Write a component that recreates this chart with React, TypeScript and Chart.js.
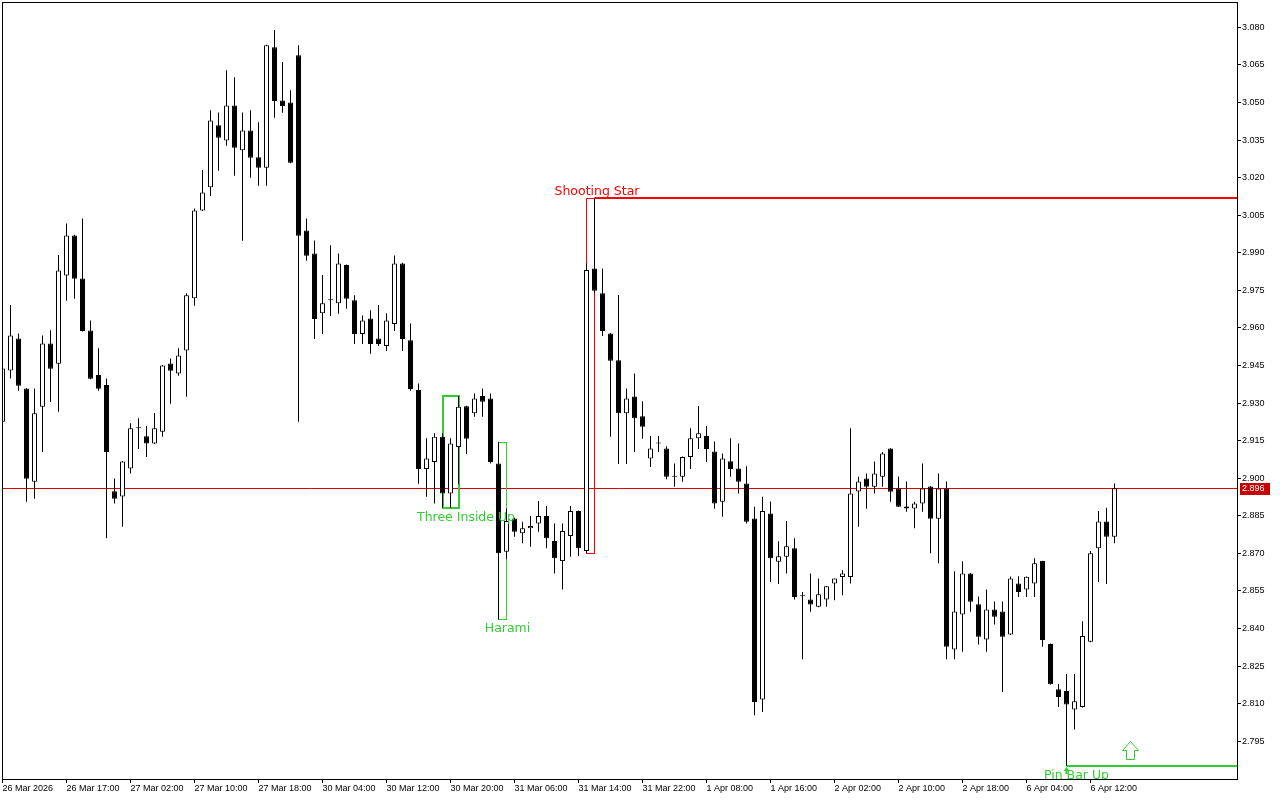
import { useEffect, useRef } from "react";
import { Chart, registerables } from "chart.js";

Chart.register(...registerables);

// ---- data (H1 candles) ----
const opens = [
  2.9225, 2.9430, 2.9558, 2.9358, 2.8986, 2.9285, 2.9538, 2.9457, 2.9809, 2.9969,
  2.9797, 2.9590, 2.9412, 2.9372, 2.8948, 2.8927, 2.9039, 2.9199, 2.9167, 2.9139,
  2.9185, 2.9458, 2.9418, 2.9510, 2.9718, 3.0069, 3.0161, 3.0409, 3.0348, 3.0488,
  3.0309, 3.0388, 3.0281, 3.0239, 3.0720, 3.0508, 3.0500, 3.0688, 2.9989, 2.9897,
  2.9658, 2.9710, 2.9698, 2.9851, 2.9710, 2.9576, 2.9638, 2.9558, 2.9528, 2.9616,
  2.9857, 2.9551, 2.9352, 2.9037, 2.9065, 2.9165, 2.8939, 2.9125, 2.9287, 2.9259,
  2.9328, 2.9318, 2.9059, 2.8706, 2.8839, 2.8780, 2.8800, 2.8819, 2.8849, 2.8749,
  2.8669, 2.8769, 2.8869, 2.8709, 2.9837, 2.9738, 2.9578, 2.9471, 2.9259, 2.9326,
  2.9247, 2.9079, 2.9139, 2.9119, 2.9006, 2.9006, 2.9085, 2.9159, 2.9168, 2.9107,
  2.8906, 2.9068, 2.9039, 2.8979, 2.8839, 2.8117, 2.8859, 2.8666, 2.8686, 2.8720,
  2.8529, 2.8516, 2.8487, 2.8516, 2.8580, 2.8606, 2.8606, 2.8947, 2.8999, 2.8966,
  2.9006, 2.9119, 2.8959, 2.8887, 2.8879, 2.8899, 2.8967, 2.8838, 2.8959, 2.8316,
  2.8456, 2.8620, 2.8497, 2.8356, 2.8476, 2.8468, 2.8376, 2.8580, 2.8556, 2.8580,
  2.8669, 2.8338, 2.8157, 2.8150, 2.8077, 2.8087, 2.8347, 2.8720, 2.8827, 2.8766,
];
const highs = [
  2.9447, 2.9691, 2.9578, 2.9360, 2.9358, 2.9570, 2.9591, 2.9891, 3.0017, 2.9972,
  3.0037, 2.9630, 2.9519, 2.9398, 2.8999, 2.9069, 2.9219, 2.9239, 2.9208, 2.9260,
  2.9452, 2.9478, 2.9519, 2.9738, 3.0077, 3.0230, 3.0469, 3.0460, 3.0629, 3.0601,
  3.0460, 3.0469, 3.0421, 3.0730, 3.0789, 3.0661, 3.0549, 3.0728, 3.0037, 2.9949,
  2.9811, 2.9930, 2.9897, 2.9853, 2.9730, 2.9650, 2.9670, 2.9691, 2.9658, 2.9889,
  2.9860, 2.9618, 2.9378, 2.9159, 2.9179, 2.9179, 2.9159, 2.9328, 2.9289, 2.9338,
  2.9358, 2.9338, 2.9145, 2.8879, 2.8842, 2.8826, 2.8849, 2.8909, 2.8889, 2.8819,
  2.8819, 2.8889, 2.8871, 2.9857, 3.0117, 2.9837, 2.9580, 2.9731, 2.9358, 2.9418,
  2.9307, 2.9168, 2.9168, 2.9128, 2.9059, 2.9087, 2.9199, 2.9288, 2.9208, 2.9147,
  2.9099, 2.9159, 2.9139, 2.9048, 2.8886, 2.8926, 2.8907, 2.8748, 2.8829, 2.8760,
  2.8546, 2.8620, 2.8600, 2.8570, 2.8600, 2.8633, 2.9199, 2.9006, 2.9019, 2.9067,
  2.9105, 2.9120, 2.9007, 2.8987, 2.8906, 2.9059, 2.8968, 2.9019, 2.8987, 2.8629,
  2.8668, 2.8622, 2.8528, 2.8556, 2.8508, 2.8508, 2.8608, 2.8609, 2.8608, 2.8680,
  2.8670, 2.8340, 2.8178, 2.8218, 2.8218, 2.8429, 2.8709, 2.8869, 2.8882, 2.8979,
];
const lows = [
  2.9216, 2.9398, 2.9349, 2.8906, 2.8918, 2.9105, 2.9304, 2.9265, 2.9708, 2.9716,
  2.9586, 2.9395, 2.9349, 2.8760, 2.8899, 2.8806, 2.9019, 2.9117, 2.9085, 2.9137,
  2.9165, 2.9297, 2.9409, 2.9325, 2.9688, 3.0067, 3.0127, 3.0227, 3.0327, 3.0207,
  2.9948, 3.0199, 3.0167, 3.0167, 3.0439, 3.0459, 3.0257, 2.9225, 2.9868, 2.9556,
  2.9576, 2.9648, 2.9656, 2.9676, 2.9536, 2.9536, 2.9497, 2.9528, 2.9508, 2.9588,
  2.9508, 2.9349, 2.8978, 2.8926, 2.8899, 2.8882, 2.8882, 2.8976, 2.9097, 2.9245,
  2.9245, 2.9059, 2.8436, 2.8676, 2.8766, 2.8740, 2.8726, 2.8786, 2.8720, 2.8620,
  2.8556, 2.8686, 2.8689, 2.8700, 2.9738, 2.9568, 2.9165, 2.9057, 2.9057, 2.9105,
  2.9157, 2.9045, 2.9105, 2.8996, 2.8966, 2.8986, 2.9037, 2.9117, 2.9065, 2.8878,
  2.8846, 2.9006, 2.8939, 2.8819, 2.8054, 2.8067, 2.8586, 2.8578, 2.8620, 2.8516,
  2.8277, 2.8467, 2.8485, 2.8487, 2.8513, 2.8533, 2.8580, 2.8806, 2.8878, 2.8939,
  2.8966, 2.8906, 2.8886, 2.8866, 2.8800, 2.8866, 2.8700, 2.8660, 2.8277, 2.8277,
  2.8307, 2.8467, 2.8336, 2.8307, 2.8416, 2.8147, 2.8374, 2.8526, 2.8526, 2.8526,
  2.8327, 2.8176, 2.8087, 2.7851, 2.7997, 2.8085, 2.8345, 2.8586, 2.8578, 2.8740,
];
const closes = [
  2.9438, 2.9570, 2.9369, 2.8998, 2.9259, 2.9538, 2.9437, 2.9829, 2.9969, 2.9796,
  2.9588, 2.9397, 2.9357, 2.9105, 2.8918, 2.9067, 2.9199, 2.9199, 2.9139, 2.9199,
  2.9450, 2.9429, 2.9490, 2.9730, 3.0069, 3.0141, 3.0428, 3.0359, 3.0488, 3.0319,
  3.0388, 3.0279, 3.0239, 3.0728, 3.0506, 3.0486, 3.0259, 2.9968, 2.9888, 2.9636,
  2.9698, 2.9710, 2.9857, 2.9716, 2.9576, 2.9630, 2.9536, 2.9536, 2.9630, 2.9857,
  2.9556, 2.9356, 2.9037, 2.9079, 2.9165, 2.8939, 2.9139, 2.9285, 2.9157, 2.9318,
  2.9305, 2.9065, 2.8700, 2.8829, 2.8786, 2.8800, 2.8809, 2.8849, 2.8760, 2.8680,
  2.8789, 2.8869, 2.8720, 2.9831, 2.9748, 2.9588, 2.9469, 2.9259, 2.9318, 2.9239,
  2.9205, 2.9119, 2.9139, 2.9006, 2.9006, 2.9085, 2.9159, 2.9179, 2.9117, 2.8899,
  2.9079, 2.9037, 2.8986, 2.8826, 2.8107, 2.8869, 2.8680, 2.8688, 2.8728, 2.8526,
  2.8529, 2.8496, 2.8537, 2.8569, 2.8600, 2.8620, 2.8939, 2.8987, 2.8966, 2.9019,
  2.9099, 2.8946, 2.8886, 2.8879, 2.8899, 2.8959, 2.8838, 2.8959, 2.8327, 2.8468,
  2.8620, 2.8507, 2.8367, 2.8476, 2.8447, 2.8367, 2.8600, 2.8546, 2.8607, 2.8660,
  2.8354, 2.8177, 2.8127, 2.8097, 2.8110, 2.8370, 2.8700, 2.8827, 2.8766, 2.8960,
];

const xTickBars = [0, 8, 16, 24, 32, 40, 48, 56, 64, 72, 80, 88, 96, 104, 112, 120, 128, 136];
const xTickLabels = [
  "26 Mar 2026", "26 Mar 17:00", "27 Mar 02:00", "27 Mar 10:00", "27 Mar 18:00",
  "30 Mar 04:00", "30 Mar 12:00", "30 Mar 20:00", "31 Mar 06:00", "31 Mar 14:00",
  "31 Mar 22:00", "1 Apr 08:00", "1 Apr 16:00", "2 Apr 02:00", "2 Apr 10:00",
  "2 Apr 18:00", "6 Apr 04:00", "6 Apr 12:00",
];
const yTickValues = [
  2.795, 2.81, 2.825, 2.84, 2.855, 2.87, 2.885, 2.9, 2.915, 2.93,
  2.945, 2.96, 2.975, 2.99, 3.005, 3.02, 3.035, 3.05, 3.065, 3.08,
];
const currentPrice = 2.896;

const shootingStarBars = [73, 74];
const threeInsideUpBars = [55, 57];
const haramiBars = [62, 63];
const pinBarUpBar = 133;
const arrowBar = 141;

const GREEN = "#32cd32";
const RED = "#ff0000";

function boxOf(b0: number, b1: number) {
  let hi = -Infinity;
  let lo = Infinity;
  for (let i = b0; i <= b1; i++) {
    hi = Math.max(hi, highs[i]);
    lo = Math.min(lows[i], lo);
  }
  return { hi, lo };
}

function geometry(chart: any) {
  const xs = chart.scales.x;
  const ys = chart.scales.y;
  const px = (i: number) => xs.getPixelForValue(i);
  const py = (v: number) => ys.getPixelForValue(v);
  const ss = boxOf(shootingStarBars[0], shootingStarBars[1]);
  const tiu = boxOf(threeInsideUpBars[0], threeInsideUpBars[1]);
  const har = boxOf(haramiBars[0], haramiBars[1]);
  return {
    px,
    py,
    ss: {
      x0: px(shootingStarBars[0]),
      x1: px(shootingStarBars[1]),
      yT: Math.round(py(highs[shootingStarBars[1]])),
      yB: Math.round(py(ss.lo)),
    },
    tiu: {
      x0: Math.round(px(threeInsideUpBars[0])),
      x1: Math.round(px(threeInsideUpBars[1])),
      yT: Math.round(py(tiu.hi)),
      yB: Math.round(py(tiu.lo)),
    },
    har: {
      x0: px(haramiBars[0]),
      x1: px(haramiBars[1]),
      yT: Math.round(py(har.hi)) + 0.5,
      yB: Math.round(py(har.lo)) + 0.5,
    },
    pin: {
      x0: px(pinBarUpBar),
      yL: Math.round(py(lows[pinBarUpBar])),
      ax: px(arrowBar),
    },
    cy: Math.floor(py(currentPrice)) + 0.5,
  };
}

const patternPlugin = {
  id: "patterns",
  beforeDatasetsDraw(chart: any) {
    const { ctx, chartArea: a } = chart;
    const g = geometry(chart);
    ctx.save();
    ctx.beginPath();
    ctx.rect(a.left, a.top, a.right - a.left, a.bottom - a.top);
    ctx.clip();

    // current price line (behind candles)
    ctx.strokeStyle = "#e00000";
    ctx.lineWidth = 1;
    ctx.beginPath();
    ctx.moveTo(a.left, g.cy);
    ctx.lineTo(a.right, g.cy);
    ctx.stroke();

    // Shooting Star box + level
    ctx.strokeStyle = RED;
    ctx.lineWidth = 1;
    ctx.strokeRect(g.ss.x0, g.ss.yT + 0.5, g.ss.x1 - g.ss.x0, g.ss.yB - g.ss.yT);
    ctx.lineWidth = 2;
    ctx.beginPath();
    ctx.moveTo(g.ss.x1, g.ss.yT);
    ctx.lineTo(a.right, g.ss.yT);
    ctx.stroke();

    // Three Inside Up box
    ctx.strokeStyle = GREEN;
    ctx.lineWidth = 2;
    ctx.strokeRect(g.tiu.x0, g.tiu.yT, g.tiu.x1 - g.tiu.x0, g.tiu.yB - g.tiu.yT);

    // Harami box
    ctx.lineWidth = 1;
    ctx.strokeRect(g.har.x0, g.har.yT, g.har.x1 - g.har.x0, g.har.yB - g.har.yT);

    // Pin Bar Up level
    ctx.lineWidth = 2;
    ctx.beginPath();
    ctx.moveTo(g.pin.x0, g.pin.yL);
    ctx.lineTo(a.right, g.pin.yL);
    ctx.stroke();

    ctx.restore();
  },
  afterDatasetsDraw(chart: any) {
    const { ctx, chartArea: a } = chart;
    const g = geometry(chart);
    ctx.save();
    ctx.beginPath();
    ctx.rect(a.left, a.top, a.right - a.left, a.bottom - a.top);
    ctx.clip();

    ctx.font = '12.5px "DejaVu Sans"';
    ctx.textBaseline = "alphabetic";

    ctx.fillStyle = RED;
    ctx.textAlign = "center";
    ctx.fillText("Shooting Star", g.ss.x1 + 2.5, g.ss.yT - 3);

    ctx.fillStyle = GREEN;
    ctx.textAlign = "left";
    ctx.fillText("Three Inside Up", g.tiu.x0 - 26, g.tiu.yB + 13);

    ctx.textAlign = "center";
    ctx.fillText("Harami", g.har.x1 + 1, g.har.yB + 12);

    // pin bar marker + text
    const x0 = g.pin.x0;
    const yL = g.pin.yL;
    ctx.beginPath();
    ctx.moveTo(x0, yL + 1);
    ctx.lineTo(x0 - 3, yL + 5);
    ctx.lineTo(x0 + 3, yL + 5);
    ctx.closePath();
    ctx.fill();
    ctx.fillRect(x0 - 1, yL + 5, 2, 3);
    ctx.fillText("Pin Bar Up", x0 + 10, yL + 13);

    // hollow up arrow
    const cx = g.pin.ax;
    const bottom = yL - 7;
    const top = bottom - 18;
    ctx.beginPath();
    ctx.moveTo(cx, top + 0.5);
    ctx.lineTo(cx + 8, top + 9.5);
    ctx.lineTo(cx + 4, top + 9.5);
    ctx.lineTo(cx + 4, bottom + 0.5);
    ctx.lineTo(cx - 4, bottom + 0.5);
    ctx.lineTo(cx - 4, top + 9.5);
    ctx.lineTo(cx - 8, top + 9.5);
    ctx.closePath();
    ctx.fillStyle = "#ffffff";
    ctx.fill();
    ctx.strokeStyle = GREEN;
    ctx.lineWidth = 1;
    ctx.stroke();

    ctx.restore();
  },
  afterDraw(chart: any) {
    const { ctx, chartArea: a } = chart;
    const g = geometry(chart);
    ctx.save();
    ctx.strokeStyle = "#000";
    ctx.lineWidth = 1;
    ctx.strokeRect(a.left + 0.5, a.top + 0.5, a.right - a.left, a.bottom - a.top);
    // current price label
    ctx.fillStyle = "#c80000";
    ctx.fillRect(a.right + 3, Math.round(g.cy - 6), 30, 12);
    ctx.fillStyle = "#ffffff";
    ctx.font = '9px "Liberation Sans"';
    ctx.textAlign = "left";
    ctx.textBaseline = "middle";
    ctx.fillText(currentPrice.toFixed(3), a.right + 5, g.cy + 0.5);
    ctx.restore();
  },
};

export default function App() {
  const ref = useRef<HTMLCanvasElement | null>(null);

  useEffect(() => {
    document.body.style.margin = "0";
    document.body.style.background = "#ffffff";
    const canvas = ref.current;
    if (!canvas) return;

    const wickData = lows.map((l, i) => ({ x: i, y: [l, highs[i]] }));
    const bodyData = opens.map((o, i) => ({
      x: i,
      y: [Math.min(o, closes[i]), Math.max(o, closes[i])],
    }));
    const bodyColors = opens.map((o, i) => (closes[i] >= o ? "#ffffff" : "#000000"));

    const chart = new Chart(canvas, {
      type: "bar",
      data: {
        datasets: [
          {
            label: "wick",
            data: wickData as any,
            backgroundColor: "#000000",
            borderWidth: 0,
            barThickness: 1,
            grouped: false,
            order: 2,
            minBarLength: 1,
            inflateAmount: 0,
          } as any,
          {
            label: "body",
            data: bodyData as any,
            backgroundColor: bodyColors,
            borderColor: "#000000",
            borderWidth: 1,
            borderSkipped: false,
            barThickness: 5,
            grouped: false,
            order: 1,
            minBarLength: 1,
            inflateAmount: 0,
          } as any,
        ],
      },
      options: {
        responsive: false,
        maintainAspectRatio: false,
        devicePixelRatio: 1,
        animation: false,
        events: [],
        layout: { padding: { left: 2, top: 2, right: 0, bottom: 0 } },
        plugins: {
          legend: { display: false },
          tooltip: { enabled: false },
        },
        scales: {
          x: {
            type: "linear",
            position: "bottom",
            min: -0.0625,
            max: 154.3125,
            offset: false,
            afterBuildTicks: (axis: any) => {
              axis.ticks = xTickBars.map((v) => ({ value: v }));
            },
            afterFit: (axis: any) => {
              axis.height = 21;
              axis.paddingLeft = 0;
              axis.paddingRight = 0;
            },
            grid: {
              display: true,
              drawOnChartArea: false,
              drawTicks: true,
              tickLength: 4,
              color: "#000000",
              offset: false,
            },
            border: { display: false },
            ticks: {
              autoSkip: false,
              maxRotation: 0,
              minRotation: 0,
              align: "start",
              padding: 0,
              color: "#000000",
              font: { family: "Liberation Sans", size: 9 },
              callback: (value: any) => {
                const k = xTickBars.indexOf(Number(value));
                return k >= 0 ? xTickLabels[k] : "";
              },
            },
          } as any,
          y: {
            type: "linear",
            position: "right",
            min: 2.77992,
            max: 3.0901,
            afterBuildTicks: (axis: any) => {
              axis.ticks = yTickValues.map((v) => ({ value: v }));
            },
            afterFit: (axis: any) => {
              axis.width = 43;
              axis.paddingTop = 0;
              axis.paddingBottom = 0;
            },
            grid: {
              display: true,
              drawOnChartArea: false,
              drawTicks: true,
              tickLength: 4,
              color: "#000000",
            },
            border: { display: false },
            ticks: {
              autoSkip: false,
              padding: 1,
              color: "#000000",
              font: { family: "Liberation Sans", size: 9 },
              callback: (value: any) => Number(value).toFixed(3),
            },
          } as any,
        },
      },
      plugins: [patternPlugin],
    });

    return () => chart.destroy();
  }, []);

  return (
    <canvas
      ref={ref}
      width={1280}
      height={800}
      style={{ display: "block", width: 1280, height: 800 }}
    />
  );
}
